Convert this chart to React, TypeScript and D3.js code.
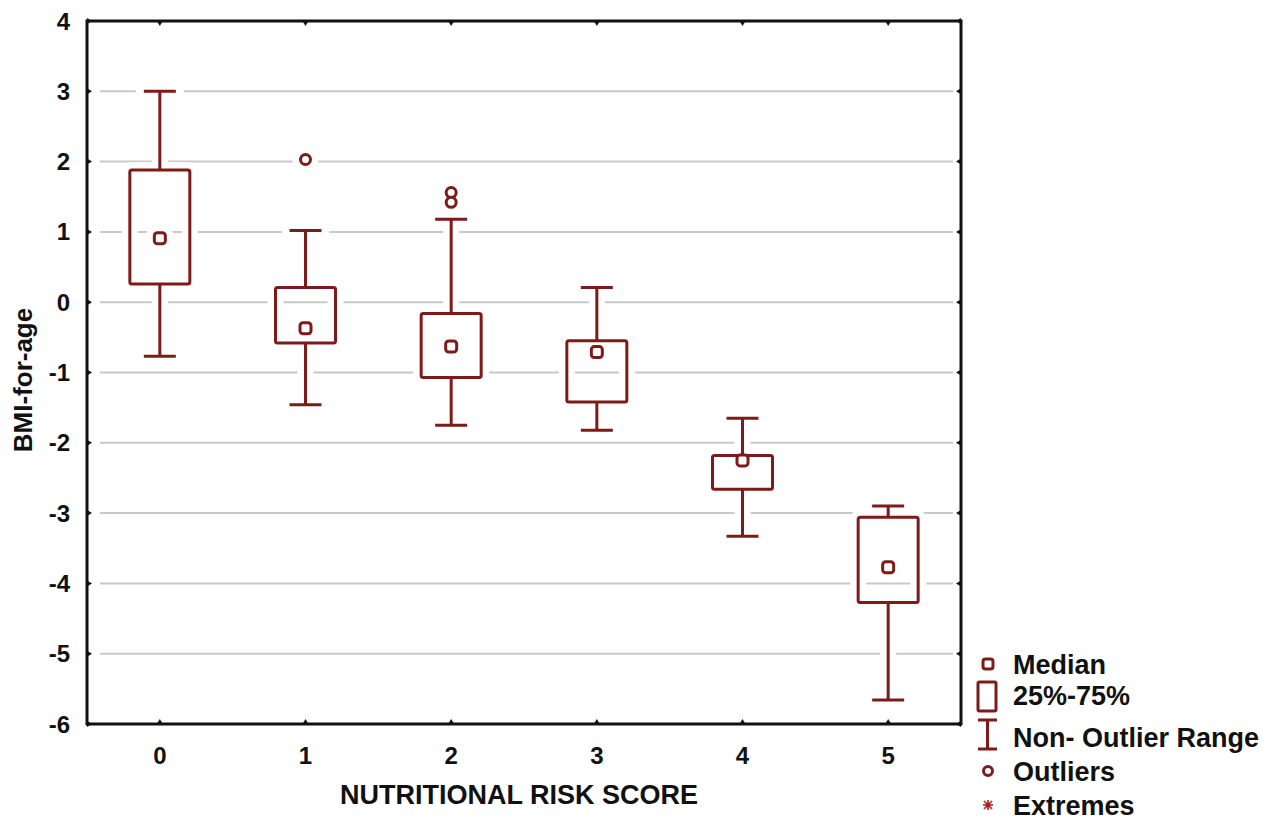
import { useEffect, useRef } from 'react';
import * as d3 from 'd3';

// Data (BMI-for-age by nutritional risk score)
const scores = ['0', '1', '2', '3', '4', '5'];
const whiskerLow = [-0.77, -1.46, -1.75, -1.82, -3.33, -5.66];
const q1 = [0.26, -0.58, -1.07, -1.42, -2.66, -4.27];
const medians = [0.91, -0.37, -0.63, -0.71, -2.25, -3.77];
const q3 = [1.88, 0.21, -0.16, -0.55, -2.18, -3.06];
const whiskerHigh = [3.0, 1.02, 1.18, 0.21, -1.65, -2.9];
const outliers = [
  { score: '1', value: 2.03 },
  { score: '2', value: 1.56 },
  { score: '2', value: 1.42 },
];
const yTicks = [4, 3, 2, 1, 0, -1, -2, -3, -4, -5, -6];
const legendLabels = ['Median', '25%-75%', 'Non- Outlier Range', 'Outliers', 'Extremes'];

const RED = '#7d1a1a';
const FONT = '"Liberation Sans", Arial, sans-serif';

const BoxPlot = () => {
  const svgRef = useRef(null);

  useEffect(() => {
    const svg = d3.select(svgRef.current);
    svg.selectAll('*').remove();

    const left = 87, right = 961, top = 21, bottom = 724;

    const x = d3.scaleBand().domain(scores).range([left, right]).padding(0);
    const y = d3.scaleLinear().domain([-6, 4]).range([bottom, top]);
    const cx = d => x(d) + x.bandwidth() / 2;

    const boxW = 60;
    const capW = 32;
    const medS = 11;

    const data = scores.map((s, i) => ({
      score: s, lo: whiskerLow[i], q1: q1[i], med: medians[i], q3: q3[i], hi: whiskerHigh[i],
    }));

    // Gridlines
    svg.append('g')
      .selectAll('line')
      .data(yTicks.filter(t => t > -6 && t < 4))
      .enter().append('line')
      .attr('x1', left + 13)
      .attr('x2', right - 8)
      .attr('y1', d => y(d))
      .attr('y2', d => y(d))
      .attr('stroke', '#c9c9c9')
      .attr('stroke-width', 2);

    // Draw boxes twice: white halo first (to break gridlines), then red
    const drawBoxes = (g, stroke, width, halo) => {
      const groups = g.selectAll('.box')
        .data(data)
        .enter().append('g')
        .attr('class', 'box');

      groups.append('line')
        .attr('x1', d => cx(d.score)).attr('x2', d => cx(d.score))
        .attr('y1', d => y(d.hi)).attr('y2', d => y(d.q3))
        .attr('stroke', stroke).attr('stroke-width', width);
      groups.append('line')
        .attr('x1', d => cx(d.score)).attr('x2', d => cx(d.score))
        .attr('y1', d => y(d.q1)).attr('y2', d => y(d.lo))
        .attr('stroke', stroke).attr('stroke-width', width);
      groups.append('line')
        .attr('x1', d => cx(d.score) - capW / 2).attr('x2', d => cx(d.score) + capW / 2)
        .attr('y1', d => y(d.hi)).attr('y2', d => y(d.hi))
        .attr('stroke', stroke).attr('stroke-width', width).attr('stroke-linecap', halo ? 'round' : 'butt');
      groups.append('line')
        .attr('x1', d => cx(d.score) - capW / 2).attr('x2', d => cx(d.score) + capW / 2)
        .attr('y1', d => y(d.lo)).attr('y2', d => y(d.lo))
        .attr('stroke', stroke).attr('stroke-width', width).attr('stroke-linecap', halo ? 'round' : 'butt');
      groups.append('rect')
        .attr('x', d => cx(d.score) - boxW / 2)
        .attr('width', boxW)
        .attr('y', d => y(d.q3))
        .attr('height', d => y(d.q1) - y(d.q3))
        .attr('rx', 2)
        .attr('fill', 'none')
        .attr('stroke', stroke).attr('stroke-width', width);
      groups.append('rect')
        .attr('x', d => cx(d.score) - medS / 2)
        .attr('y', d => y(d.med) - medS / 2)
        .attr('width', medS)
        .attr('height', medS)
        .attr('rx', 3)
        .attr('fill', 'white')
        .attr('stroke', stroke).attr('stroke-width', halo ? width : 3);

      g.selectAll('.outlier')
        .data(outliers)
        .enter().append('circle')
        .attr('class', 'outlier')
        .attr('cx', d => cx(d.score))
        .attr('cy', d => y(d.value))
        .attr('r', 5)
        .attr('fill', 'white')
        .attr('stroke', stroke).attr('stroke-width', halo ? width : 3);
    };

    drawBoxes(svg.append('g'), 'white', 16, true);
    drawBoxes(svg.append('g'), RED, 3, false);

    // Frame
    svg.append('rect')
      .attr('x', left).attr('y', top)
      .attr('width', right - left).attr('height', bottom - top)
      .attr('fill', 'none').attr('stroke', '#111').attr('stroke-width', 3);

    // Ticks on all sides
    const tk = svg.append('g').attr('fill', '#111');
    yTicks.forEach(t => {
      tk.append('path').attr('d', `M${left},${y(t) - 3}L${left + 5},${y(t)}L${left},${y(t) + 3}Z`);
      tk.append('path').attr('d', `M${right},${y(t) - 3}L${right - 5},${y(t)}L${right},${y(t) + 3}Z`);
    });
    scores.forEach(s => {
      tk.append('path').attr('d', `M${cx(s) - 3},${bottom}L${cx(s)},${bottom - 5}L${cx(s) + 3},${bottom}Z`);
      tk.append('path').attr('d', `M${cx(s) - 3},${top}L${cx(s)},${top + 5}L${cx(s) + 3},${top}Z`);
    });

    // Axis labels
    svg.append('g')
      .selectAll('text')
      .data(yTicks)
      .enter().append('text')
      .attr('x', 70)
      .attr('y', d => y(d) + 8.5)
      .attr('text-anchor', 'end')
      .style('font', `bold 24px ${FONT}`)
      .attr('fill', '#111')
      .text(d => d);

    svg.append('g')
      .selectAll('text')
      .data(scores)
      .enter().append('text')
      .attr('x', d => cx(d))
      .attr('y', 764)
      .attr('text-anchor', 'middle')
      .style('font', `bold 24px ${FONT}`)
      .attr('fill', '#111')
      .text(d => d);

    svg.append('text')
      .attr('x', 519)
      .attr('y', 804)
      .attr('text-anchor', 'middle')
      .style('font', `bold 27px ${FONT}`)
      .attr('fill', '#111')
      .text('NUTRITIONAL RISK SCORE');

    svg.append('text')
      .attr('transform', 'translate(32,380) rotate(-90)')
      .attr('text-anchor', 'middle')
      .style('font', `bold 26px ${FONT}`)
      .attr('fill', '#111')
      .text('BMI-for-age');

    // Legend
    const legend = svg.append('g');
    const rows = [664, 695, 737, 771, 805];
    legend.selectAll('text')
      .data(legendLabels)
      .enter().append('text')
      .attr('x', 1013)
      .attr('y', (d, i) => rows[i] + 10)
      .style('font', `bold 27px ${FONT}`)
      .attr('fill', '#111')
      .text(d => d);

    legend.append('rect')
      .attr('x', 983).attr('y', rows[0] - 5).attr('width', 10).attr('height', 10).attr('rx', 2.5)
      .attr('fill', 'white').attr('stroke', RED).attr('stroke-width', 3);
    legend.append('rect')
      .attr('x', 978).attr('y', 682).attr('width', 18).attr('height', 29).attr('rx', 1.5)
      .attr('fill', 'none').attr('stroke', RED).attr('stroke-width', 3);
    legend.append('path')
      .attr('d', 'M978,720H997M987.5,720V749M978,749H997')
      .attr('fill', 'none').attr('stroke', RED).attr('stroke-width', 3);
    legend.append('circle')
      .attr('cx', 988).attr('cy', rows[3]).attr('r', 4.5)
      .attr('fill', 'white').attr('stroke', RED).attr('stroke-width', 3);
    // Extremes: small asterisk
    legend.append('path')
      .attr('d', `M984,${rows[4] - 4}L992,${rows[4] + 4}M992,${rows[4] - 4}L984,${rows[4] + 4}M988,${rows[4] - 5}V${rows[4] + 5}M983,${rows[4]}H993`)
      .attr('fill', 'none').attr('stroke', '#c0504d').attr('stroke-width', 2);
    legend.append('circle')
      .attr('cx', 988).attr('cy', rows[4]).attr('r', 2.2)
      .attr('fill', '#a02020');
  }, []);

  return (
    <svg ref={svgRef} width={1267} height={820}
      style={{ position: 'absolute', left: 0, top: 0, background: 'white' }} />
  );
};

export default function App() {
  return <BoxPlot />;
}
